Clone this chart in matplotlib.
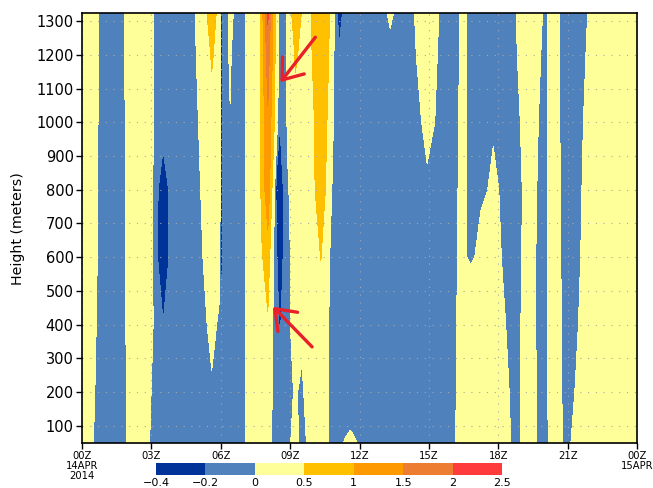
import matplotlib
matplotlib.use("Agg")
import matplotlib.pyplot as plt
import numpy as np
from matplotlib.colors import ListedColormap, BoundaryNorm
from matplotlib.cm import ScalarMappable
from matplotlib.ticker import FuncFormatter

# time of each column, hours after 00Z 14APR2014
hours = [0.00, 1.256, 2.491, 3.141, 3.284, 3.509, 3.769, 4.505, 5.112, 5.610, 5.948,
         6.013, 6.173, 6.403, 6.780, 7.278, 7.625, 7.776, 8.036, 8.296, 8.426,
         8.556, 8.708, 8.924, 9.228, 9.509, 9.791, 10.332, 10.787, 10.939, 11.112,
         11.394, 11.610, 12.260, 13.322, 13.993, 14.924, 15.812, 16.484, 16.809, 17.242,
         17.784, 18.671, 19.321, 19.971, 20.404, 21.054, 21.357, 22.657, 24.0]

heights = [49, 200, 400, 600, 800, 1000, 1200, 1324]

# field values at each height level (one list per level)
w_49 = [0.097, -0.15, 0.12, -0.06, -0.09, -0.15, -0.16, -0.17, -0.17, -0.17, -0.12,
        -0.12, -0.12, -0.12, -0.065, 0.05, 0.12, 0.15, 0.08, -0.057, -0.12,
        -0.12, -0.10, -0.02, 0.04, -0.047, 0.021, 0.10, -0.04, -0.07, -0.045,
        0.02, 0.051, -0.058, -0.18, -0.18, -0.18, -0.08, 0.075, 0.20, 0.25,
        0.208, -0.036, 0.049, -0.043, 0.057, -0.041, 0.103, 0.30, 0.30]
w_200 = [0.115, -0.145, 0.115, -0.035, -0.06, -0.14, -0.16, -0.17, -0.17, -0.022, -0.10,
         -0.10, -0.10, -0.12, -0.07, 0.045, 0.12, 0.15, 0.10, -0.033, -0.10,
         -0.10, -0.12, -0.05, 0.02, -0.0365, 0.095, 0.15, -0.052, -0.10, -0.15,
         -0.16, -0.15, -0.18, -0.18, -0.18, -0.18, -0.085, 0.07, 0.20, 0.25,
         0.109, -0.031, 0.04, -0.04, 0.06, -0.053, 0.01, 0.30, 0.30]
w_400 = [0.135, -0.14, 0.135, -0.015, -0.05, -0.19, -0.16, -0.18, -0.069, 0.046, -0.026,
         -0.157, -0.10, -0.15, -0.06, 0.046, 0.15, 0.25, 0.44, -0.088, -0.15,
         -0.22, -0.15, -0.02, 0.05, 0.05, 0.20, 0.30, -0.104, -0.15, -0.18,
         -0.18, -0.18, -0.18, -0.18, -0.18, -0.18, -0.09, 0.065, 0.30, 0.20,
         0.048, -0.031, 0.035, -0.04, 0.06, -0.06, -0.025, 0.275, 0.30]
w_600 = [0.15, -0.135, 0.132, -0.02, -0.21, -0.55, -0.19, -0.166, -0.026, 0.085, 0.046,
         -0.30, -0.05, -0.10, -0.06, 0.046, 0.30, 0.456, 0.75, -0.039, -0.19,
         -0.50, -0.17, -0.02, 0.05, 0.12, 0.20, 0.51, -0.10, -0.15, -0.16,
         -0.18, -0.18, -0.18, -0.18, -0.18, -0.18, -0.059, 0.035, -0.04, 0.06,
         0.026, -0.04, 0.035, -0.04, 0.06, -0.069, -0.048, 0.252, 0.30]
w_800 = [0.155, -0.135, 0.133, -0.017, -0.195, -0.40, -0.18, -0.144, -0.004, 0.10, 0.26,
         -0.30, -0.05, -0.10, -0.06, 0.046, 0.19, 0.625, 1.375, 0.10, -0.35,
         -0.45, -0.195, -0.005, 0.065, 0.08, 0.10, 0.85, 0.02, -0.15, -0.16,
         -0.17, -0.18, -0.18, -0.18, -0.18, -0.035, -0.103, 0.052, -0.059, -0.029,
         0.023, -0.062, 0.048, -0.042, 0.0625, -0.082, -0.06, 0.24, 0.30]
w_1000 = [0.16, -0.13, 0.135, -0.015, -0.05, -0.06, -0.16, -0.122, 0.018, 0.368, 0.26,
          -0.30, -0.05, -0.005, -0.06, 0.046, 0.05, 0.68, 1.417, 0.60, 0.10,
          -0.19, -0.12, 0.051, 0.375, 0.35, 0.13, 0.90, 0.20, -0.15, -0.15,
          -0.16, -0.17, -0.18, -0.18, -0.16, 0.055, -0.093, 0.038, -0.043, -0.14,
          -0.013, -0.065, 0.085, -0.049, 0.074, -0.111, -0.075, 0.225, 0.30]
w_1200 = [0.163, -0.127, 0.135, -0.012, -0.05, -0.10, -0.16, -0.10, 0.04, 0.544, 0.315,
          -0.30, -0.04, 0.013, -0.081, 0.062, 0.17, 0.75, 1.75, 0.75, 0.15,
          -0.18, -0.15, 0.10, 0.544, 0.414, 0.374, 0.80, 0.396, -0.158, -0.185,
          -0.16, -0.17, -0.18, -0.044, -0.10, 0.102, -0.103, 0.035, -0.04, -0.14,
          -0.18, -0.035, 0.115, -0.029, 0.0435, -0.075, -0.10, 0.20, 0.30]
w_1324 = [0.165, -0.125, 0.135, -0.012, -0.05, -0.10, -0.16, -0.09, 0.05, 0.82, 0.26,
          -0.30, -0.035, 0.018, -0.031, 0.024, 0.17, 0.75, 2.10, 0.75, 0.25,
          -0.18, -0.15, 0.10, 0.95, 0.46, 0.405, 0.85, 0.418, -0.07, -0.278,
          -0.133, -0.16, -0.18, 0.025, -0.083, 0.118, -0.087, 0.025, -0.04, -0.14,
          -0.18, -0.02, 0.105, -0.01, 0.015, -0.0275, -0.117, 0.183, 0.30]

levels = [-0.4, -0.2, 0, 0.5, 1, 1.5, 2, 2.5]
colors = ['#003399', '#4F81BD', '#FFFF99', '#FFC000', '#FF9900', '#ED7D31', '#FF3B3B']

tick_hours = [0, 3, 6, 9, 12, 15, 18, 21, 24]
tick_labels = ['00Z\n14APR\n2014', '03Z', '06Z', '09Z', '12Z', '15Z', '18Z', '21Z', '00Z\n15APR']
height_ticks = list(range(100, 1301, 100))

field = np.array([w_49, w_200, w_400, w_600, w_800, w_1000, w_1200, w_1324])

fig = plt.figure(figsize=(6.53, 4.88), dpi=100)
ax = fig.add_axes([82 / 653, 45 / 488, 555 / 653, 430 / 488])

cmap = ListedColormap(colors)
cmap.set_under(colors[0])
cmap.set_over(colors[-1])
norm = BoundaryNorm(levels, cmap.N)

ax.contourf(hours, heights, field, levels=levels, cmap=cmap, norm=norm, extend='both')

ax.set_xlim(0, 24)
ax.set_ylim(49, 1324)
ax.set_xticks(tick_hours)
ax.set_xticklabels(tick_labels, fontsize=7.2, linespacing=0.95)
ax.set_yticks(height_ticks)
ax.tick_params(axis='y', labelsize=10.5, length=4, width=1, pad=2)
ax.tick_params(axis='x', length=4, width=1, pad=2)
ax.grid(True, color='#A8A8A8', linestyle=(0, (1.0, 6.0)), linewidth=0.8)
for s in ax.spines.values():
    s.set_linewidth(1.2)

fig.text(18 / 653, 1 - 229 / 488, 'Height (meters)', rotation=90,
         ha='center', va='center', fontsize=10.2)

# red arrows
arrow = dict(arrowstyle='->, head_length=0.6, head_width=0.45', color='#E8202A',
             lw=2.4, shrinkA=0, shrinkB=0, mutation_scale=22)
ax.annotate('', xy=(8.58, 1119), xytext=(10.09, 1252), arrowprops=arrow)
ax.annotate('', xy=(8.26, 453), xytext=(9.95, 334), arrowprops=arrow)

# colour bar
cax = fig.add_axes([156 / 653, 13 / 488, 346 / 653, 12 / 488])
cb = fig.colorbar(ScalarMappable(norm=norm, cmap=cmap), cax=cax,
                  orientation='horizontal', ticks=levels, spacing='uniform')
cb.outline.set_visible(False)
cb.ax.xaxis.set_major_formatter(FuncFormatter(lambda v, p: f'{v:g}'.replace('-', '\u2212')))
cb.ax.tick_params(length=0, labelsize=8, pad=2)

fig.savefig('out.png', dpi=100)
